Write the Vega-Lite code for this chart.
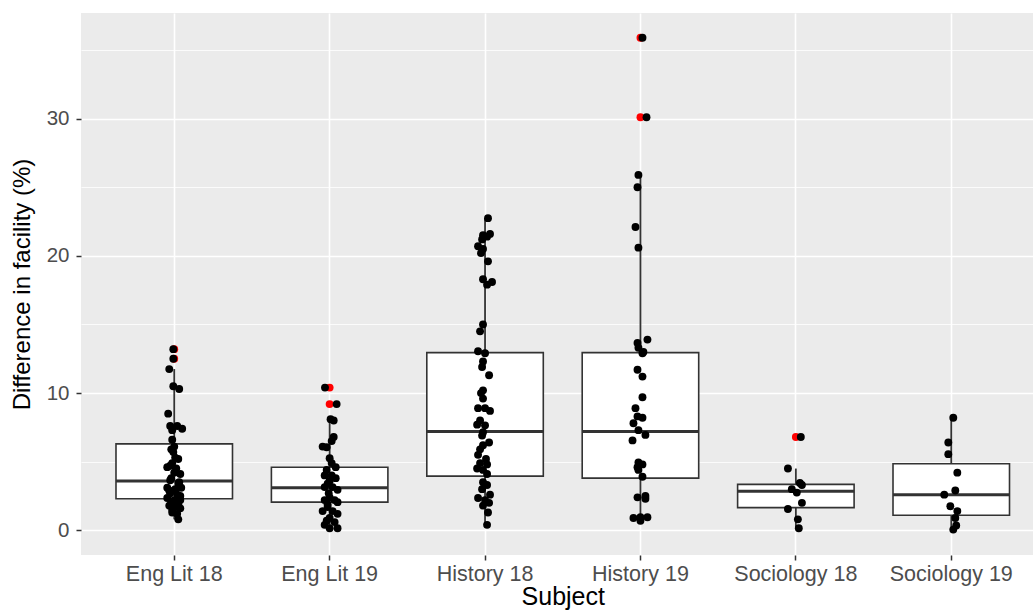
{
  "$schema": "https://vega.github.io/schema/vega-lite/v6.json",
  "width": 952,
  "height": 542,
  "autosize": {"type": "none"},
  "padding": {"left": 81, "top": 13, "right": 0, "bottom": 55},
  "background": "white",
  "config": {"view": {"fill": "#EBEBEB", "stroke": null}, "font": "Liberation Sans"},
  "datasets": {
    "box": [
      {"subject": "Eng Lit 18", "lower": 0.8, "q1": 2.3, "median": 3.6, "q3": 6.3, "upper": 11.75},
      {"subject": "Eng Lit 19", "lower": 0.05, "q1": 2.05, "median": 3.1, "q3": 4.6, "upper": 8.1},
      {"subject": "History 18", "lower": 0.4, "q1": 3.95, "median": 7.2, "q3": 12.95, "upper": 22.75},
      {"subject": "History 19", "lower": 0.7, "q1": 3.8, "median": 7.2, "q3": 12.95, "upper": 25.9},
      {"subject": "Sociology 18", "lower": 0.15, "q1": 1.65, "median": 2.85, "q3": 3.35, "upper": 4.5},
      {"subject": "Sociology 19", "lower": 0.05, "q1": 1.1, "median": 2.6, "q3": 4.85, "upper": 8.2}
    ],
    "pts": [
      {"subject": "Eng Lit 18", "value": 13.2, "jitter": -0.006, "outlier": true},
      {"subject": "Eng Lit 18", "value": 12.5, "jitter": -0.006, "outlier": true},
      {"subject": "Eng Lit 18", "value": 11.75, "jitter": -0.032, "outlier": false},
      {"subject": "Eng Lit 18", "value": 10.5, "jitter": -0.006, "outlier": false},
      {"subject": "Eng Lit 18", "value": 10.3, "jitter": 0.032, "outlier": false},
      {"subject": "Eng Lit 18", "value": 8.5, "jitter": -0.039, "outlier": false},
      {"subject": "Eng Lit 18", "value": 7.6, "jitter": -0.026, "outlier": false},
      {"subject": "Eng Lit 18", "value": 7.6, "jitter": 0.019, "outlier": false},
      {"subject": "Eng Lit 18", "value": 7.4, "jitter": 0.051, "outlier": false},
      {"subject": "Eng Lit 18", "value": 7.3, "jitter": -0.013, "outlier": false},
      {"subject": "Eng Lit 18", "value": 6.6, "jitter": -0.013, "outlier": false},
      {"subject": "Eng Lit 18", "value": 6.1, "jitter": 0.0, "outlier": false},
      {"subject": "Eng Lit 18", "value": 5.9, "jitter": -0.019, "outlier": false},
      {"subject": "Eng Lit 18", "value": 5.7, "jitter": -0.006, "outlier": false},
      {"subject": "Eng Lit 18", "value": 5.3, "jitter": 0.006, "outlier": false},
      {"subject": "Eng Lit 18", "value": 5.2, "jitter": 0.026, "outlier": false},
      {"subject": "Eng Lit 18", "value": 4.9, "jitter": -0.013, "outlier": false},
      {"subject": "Eng Lit 18", "value": 4.7, "jitter": -0.026, "outlier": false},
      {"subject": "Eng Lit 18", "value": 4.6, "jitter": -0.045, "outlier": false},
      {"subject": "Eng Lit 18", "value": 4.5, "jitter": 0.013, "outlier": false},
      {"subject": "Eng Lit 18", "value": 4.2, "jitter": 0.0, "outlier": false},
      {"subject": "Eng Lit 18", "value": 4.1, "jitter": 0.039, "outlier": false},
      {"subject": "Eng Lit 18", "value": 3.8, "jitter": -0.019, "outlier": false},
      {"subject": "Eng Lit 18", "value": 3.65, "jitter": -0.026, "outlier": false},
      {"subject": "Eng Lit 18", "value": 3.5, "jitter": 0.032, "outlier": false},
      {"subject": "Eng Lit 18", "value": 3.4, "jitter": 0.026, "outlier": false},
      {"subject": "Eng Lit 18", "value": 3.1, "jitter": -0.045, "outlier": false},
      {"subject": "Eng Lit 18", "value": 3.0, "jitter": 0.006, "outlier": false},
      {"subject": "Eng Lit 18", "value": 3.1, "jitter": 0.045, "outlier": false},
      {"subject": "Eng Lit 18", "value": 2.9, "jitter": -0.032, "outlier": false},
      {"subject": "Eng Lit 18", "value": 2.7, "jitter": -0.026, "outlier": false},
      {"subject": "Eng Lit 18", "value": 2.6, "jitter": 0.019, "outlier": false},
      {"subject": "Eng Lit 18", "value": 2.5, "jitter": 0.039, "outlier": false},
      {"subject": "Eng Lit 18", "value": 2.35, "jitter": -0.045, "outlier": false},
      {"subject": "Eng Lit 18", "value": 2.2, "jitter": 0.0, "outlier": false},
      {"subject": "Eng Lit 18", "value": 2.2, "jitter": 0.039, "outlier": false},
      {"subject": "Eng Lit 18", "value": 2.0, "jitter": -0.019, "outlier": false},
      {"subject": "Eng Lit 18", "value": 1.9, "jitter": 0.026, "outlier": false},
      {"subject": "Eng Lit 18", "value": 1.8, "jitter": -0.032, "outlier": false},
      {"subject": "Eng Lit 18", "value": 1.7, "jitter": 0.006, "outlier": false},
      {"subject": "Eng Lit 18", "value": 1.6, "jitter": 0.039, "outlier": false},
      {"subject": "Eng Lit 18", "value": 1.5, "jitter": -0.013, "outlier": false},
      {"subject": "Eng Lit 18", "value": 1.3, "jitter": -0.013, "outlier": false},
      {"subject": "Eng Lit 18", "value": 1.2, "jitter": 0.019, "outlier": false},
      {"subject": "Eng Lit 18", "value": 0.8, "jitter": 0.026, "outlier": false},
      {"subject": "Eng Lit 19", "value": 10.4, "jitter": -0.03, "outlier": true},
      {"subject": "Eng Lit 19", "value": 9.2, "jitter": 0.045, "outlier": true},
      {"subject": "Eng Lit 19", "value": 8.1, "jitter": 0.006, "outlier": false},
      {"subject": "Eng Lit 19", "value": 8.0, "jitter": 0.026, "outlier": false},
      {"subject": "Eng Lit 19", "value": 6.8, "jitter": 0.026, "outlier": false},
      {"subject": "Eng Lit 19", "value": 6.5, "jitter": 0.013, "outlier": false},
      {"subject": "Eng Lit 19", "value": 6.1, "jitter": -0.045, "outlier": false},
      {"subject": "Eng Lit 19", "value": 6.05, "jitter": -0.019, "outlier": false},
      {"subject": "Eng Lit 19", "value": 5.25, "jitter": 0.0, "outlier": false},
      {"subject": "Eng Lit 19", "value": 4.9, "jitter": 0.013, "outlier": false},
      {"subject": "Eng Lit 19", "value": 4.6, "jitter": 0.039, "outlier": false},
      {"subject": "Eng Lit 19", "value": 4.4, "jitter": -0.019, "outlier": false},
      {"subject": "Eng Lit 19", "value": 4.0, "jitter": -0.032, "outlier": false},
      {"subject": "Eng Lit 19", "value": 4.0, "jitter": 0.013, "outlier": false},
      {"subject": "Eng Lit 19", "value": 3.8, "jitter": 0.039, "outlier": false},
      {"subject": "Eng Lit 19", "value": 3.6, "jitter": 0.0, "outlier": false},
      {"subject": "Eng Lit 19", "value": 3.4, "jitter": -0.013, "outlier": false},
      {"subject": "Eng Lit 19", "value": 3.15, "jitter": -0.032, "outlier": false},
      {"subject": "Eng Lit 19", "value": 3.15, "jitter": 0.019, "outlier": false},
      {"subject": "Eng Lit 19", "value": 2.95, "jitter": 0.051, "outlier": false},
      {"subject": "Eng Lit 19", "value": 2.7, "jitter": -0.006, "outlier": false},
      {"subject": "Eng Lit 19", "value": 2.4, "jitter": 0.0, "outlier": false},
      {"subject": "Eng Lit 19", "value": 2.2, "jitter": -0.032, "outlier": false},
      {"subject": "Eng Lit 19", "value": 2.2, "jitter": 0.032, "outlier": false},
      {"subject": "Eng Lit 19", "value": 2.05, "jitter": 0.051, "outlier": false},
      {"subject": "Eng Lit 19", "value": 1.9, "jitter": -0.013, "outlier": false},
      {"subject": "Eng Lit 19", "value": 1.7, "jitter": -0.013, "outlier": false},
      {"subject": "Eng Lit 19", "value": 1.4, "jitter": -0.045, "outlier": false},
      {"subject": "Eng Lit 19", "value": 1.4, "jitter": 0.019, "outlier": false},
      {"subject": "Eng Lit 19", "value": 1.2, "jitter": 0.051, "outlier": false},
      {"subject": "Eng Lit 19", "value": 0.9, "jitter": 0.0, "outlier": false},
      {"subject": "Eng Lit 19", "value": 0.7, "jitter": -0.019, "outlier": false},
      {"subject": "Eng Lit 19", "value": 0.6, "jitter": 0.032, "outlier": false},
      {"subject": "Eng Lit 19", "value": 0.4, "jitter": -0.032, "outlier": false},
      {"subject": "Eng Lit 19", "value": 0.15, "jitter": 0.0, "outlier": false},
      {"subject": "Eng Lit 19", "value": 0.15, "jitter": 0.051, "outlier": false},
      {"subject": "History 18", "value": 22.75, "jitter": 0.019, "outlier": false},
      {"subject": "History 18", "value": 21.6, "jitter": 0.032, "outlier": false},
      {"subject": "History 18", "value": 21.5, "jitter": -0.013, "outlier": false},
      {"subject": "History 18", "value": 21.4, "jitter": 0.013, "outlier": false},
      {"subject": "History 18", "value": 21.2, "jitter": -0.019, "outlier": false},
      {"subject": "History 18", "value": 20.7, "jitter": -0.045, "outlier": false},
      {"subject": "History 18", "value": 20.5, "jitter": -0.013, "outlier": false},
      {"subject": "History 18", "value": 20.2, "jitter": -0.026, "outlier": false},
      {"subject": "History 18", "value": 19.6, "jitter": 0.019, "outlier": false},
      {"subject": "History 18", "value": 18.3, "jitter": -0.013, "outlier": false},
      {"subject": "History 18", "value": 18.1, "jitter": 0.045, "outlier": false},
      {"subject": "History 18", "value": 17.9, "jitter": 0.013, "outlier": false},
      {"subject": "History 18", "value": 15.0, "jitter": -0.013, "outlier": false},
      {"subject": "History 18", "value": 14.5, "jitter": -0.032, "outlier": false},
      {"subject": "History 18", "value": 13.05, "jitter": -0.045, "outlier": false},
      {"subject": "History 18", "value": 12.9, "jitter": 0.0, "outlier": false},
      {"subject": "History 18", "value": 12.3, "jitter": -0.013, "outlier": false},
      {"subject": "History 18", "value": 11.9, "jitter": -0.019, "outlier": false},
      {"subject": "History 18", "value": 11.3, "jitter": 0.026, "outlier": false},
      {"subject": "History 18", "value": 10.2, "jitter": -0.013, "outlier": false},
      {"subject": "History 18", "value": 10.0, "jitter": -0.026, "outlier": false},
      {"subject": "History 18", "value": 9.6, "jitter": -0.013, "outlier": false},
      {"subject": "History 18", "value": 8.9, "jitter": -0.045, "outlier": false},
      {"subject": "History 18", "value": 8.9, "jitter": 0.0, "outlier": false},
      {"subject": "History 18", "value": 8.7, "jitter": 0.032, "outlier": false},
      {"subject": "History 18", "value": 8.0, "jitter": -0.032, "outlier": false},
      {"subject": "History 18", "value": 7.7, "jitter": -0.051, "outlier": false},
      {"subject": "History 18", "value": 7.65, "jitter": 0.0, "outlier": false},
      {"subject": "History 18", "value": 7.15, "jitter": -0.013, "outlier": false},
      {"subject": "History 18", "value": 6.9, "jitter": -0.019, "outlier": false},
      {"subject": "History 18", "value": 6.4, "jitter": 0.026, "outlier": false},
      {"subject": "History 18", "value": 6.2, "jitter": -0.013, "outlier": false},
      {"subject": "History 18", "value": 5.9, "jitter": -0.032, "outlier": false},
      {"subject": "History 18", "value": 5.5, "jitter": -0.045, "outlier": false},
      {"subject": "History 18", "value": 5.2, "jitter": 0.006, "outlier": false},
      {"subject": "History 18", "value": 4.9, "jitter": -0.032, "outlier": false},
      {"subject": "History 18", "value": 4.8, "jitter": 0.013, "outlier": false},
      {"subject": "History 18", "value": 4.5, "jitter": -0.051, "outlier": false},
      {"subject": "History 18", "value": 4.4, "jitter": -0.013, "outlier": false},
      {"subject": "History 18", "value": 4.1, "jitter": 0.013, "outlier": false},
      {"subject": "History 18", "value": 3.5, "jitter": -0.013, "outlier": false},
      {"subject": "History 18", "value": 3.3, "jitter": 0.013, "outlier": false},
      {"subject": "History 18", "value": 3.0, "jitter": -0.019, "outlier": false},
      {"subject": "History 18", "value": 2.6, "jitter": 0.032, "outlier": false},
      {"subject": "History 18", "value": 2.35, "jitter": -0.045, "outlier": false},
      {"subject": "History 18", "value": 2.2, "jitter": 0.0, "outlier": false},
      {"subject": "History 18", "value": 2.0, "jitter": 0.026, "outlier": false},
      {"subject": "History 18", "value": 1.8, "jitter": -0.013, "outlier": false},
      {"subject": "History 18", "value": 1.3, "jitter": 0.019, "outlier": false},
      {"subject": "History 18", "value": 0.4, "jitter": 0.013, "outlier": false},
      {"subject": "History 19", "value": 35.9, "jitter": 0.013, "outlier": true},
      {"subject": "History 19", "value": 30.1, "jitter": 0.039, "outlier": true},
      {"subject": "History 19", "value": 25.9, "jitter": -0.013, "outlier": false},
      {"subject": "History 19", "value": 25.0, "jitter": -0.019, "outlier": false},
      {"subject": "History 19", "value": 22.1, "jitter": -0.032, "outlier": false},
      {"subject": "History 19", "value": 20.6, "jitter": -0.013, "outlier": false},
      {"subject": "History 19", "value": 13.9, "jitter": 0.045, "outlier": false},
      {"subject": "History 19", "value": 13.65, "jitter": -0.019, "outlier": false},
      {"subject": "History 19", "value": 13.3, "jitter": -0.013, "outlier": false},
      {"subject": "History 19", "value": 13.0, "jitter": 0.019, "outlier": false},
      {"subject": "History 19", "value": 12.9, "jitter": 0.013, "outlier": false},
      {"subject": "History 19", "value": 11.7, "jitter": -0.019, "outlier": false},
      {"subject": "History 19", "value": 11.2, "jitter": 0.013, "outlier": false},
      {"subject": "History 19", "value": 9.7, "jitter": 0.013, "outlier": false},
      {"subject": "History 19", "value": 8.9, "jitter": -0.032, "outlier": false},
      {"subject": "History 19", "value": 8.3, "jitter": -0.019, "outlier": false},
      {"subject": "History 19", "value": 8.2, "jitter": 0.013, "outlier": false},
      {"subject": "History 19", "value": 7.8, "jitter": -0.045, "outlier": false},
      {"subject": "History 19", "value": 7.3, "jitter": -0.013, "outlier": false},
      {"subject": "History 19", "value": 6.95, "jitter": 0.032, "outlier": false},
      {"subject": "History 19", "value": 6.55, "jitter": -0.051, "outlier": false},
      {"subject": "History 19", "value": 4.95, "jitter": -0.013, "outlier": false},
      {"subject": "History 19", "value": 4.8, "jitter": 0.013, "outlier": false},
      {"subject": "History 19", "value": 4.6, "jitter": -0.019, "outlier": false},
      {"subject": "History 19", "value": 4.4, "jitter": -0.013, "outlier": false},
      {"subject": "History 19", "value": 3.9, "jitter": 0.013, "outlier": false},
      {"subject": "History 19", "value": 2.5, "jitter": 0.032, "outlier": false},
      {"subject": "History 19", "value": 2.4, "jitter": -0.019, "outlier": false},
      {"subject": "History 19", "value": 2.3, "jitter": 0.032, "outlier": false},
      {"subject": "History 19", "value": 0.95, "jitter": 0.0, "outlier": false},
      {"subject": "History 19", "value": 0.9, "jitter": -0.045, "outlier": false},
      {"subject": "History 19", "value": 0.95, "jitter": 0.045, "outlier": false},
      {"subject": "History 19", "value": 0.7, "jitter": 0.0, "outlier": false},
      {"subject": "Sociology 18", "value": 6.8, "jitter": 0.032, "outlier": true},
      {"subject": "Sociology 18", "value": 4.5, "jitter": -0.051, "outlier": false},
      {"subject": "Sociology 18", "value": 3.45, "jitter": 0.026, "outlier": false},
      {"subject": "Sociology 18", "value": 3.3, "jitter": 0.039, "outlier": false},
      {"subject": "Sociology 18", "value": 3.0, "jitter": -0.026, "outlier": false},
      {"subject": "Sociology 18", "value": 2.75, "jitter": 0.006, "outlier": false},
      {"subject": "Sociology 18", "value": 2.0, "jitter": 0.039, "outlier": false},
      {"subject": "Sociology 18", "value": 1.55, "jitter": -0.051, "outlier": false},
      {"subject": "Sociology 18", "value": 0.8, "jitter": 0.013, "outlier": false},
      {"subject": "Sociology 18", "value": 0.15, "jitter": 0.019, "outlier": false},
      {"subject": "Sociology 19", "value": 8.2, "jitter": 0.013, "outlier": false},
      {"subject": "Sociology 19", "value": 6.4, "jitter": -0.019, "outlier": false},
      {"subject": "Sociology 19", "value": 5.55, "jitter": -0.019, "outlier": false},
      {"subject": "Sociology 19", "value": 4.2, "jitter": 0.039, "outlier": false},
      {"subject": "Sociology 19", "value": 2.9, "jitter": 0.026, "outlier": false},
      {"subject": "Sociology 19", "value": 2.6, "jitter": -0.045, "outlier": false},
      {"subject": "Sociology 19", "value": 1.75, "jitter": -0.006, "outlier": false},
      {"subject": "Sociology 19", "value": 1.4, "jitter": 0.039, "outlier": false},
      {"subject": "Sociology 19", "value": 0.9, "jitter": 0.026, "outlier": false},
      {"subject": "Sociology 19", "value": 0.35, "jitter": 0.032, "outlier": false},
      {"subject": "Sociology 19", "value": 0.05, "jitter": 0.013, "outlier": false}
    ]
  },
  "encoding": {
    "x": {
      "field": "subject",
      "type": "nominal",
      "title": "Subject",
      "scale": {
        "domain": ["Eng Lit 18", "Eng Lit 19", "History 18", "History 19", "Sociology 18", "Sociology 19"],
        "range": [0, 963.5],
        "paddingInner": 0,
        "paddingOuter": 0.1
      },
      "axis": {
        "bandPosition": 0.5,
        "grid": true,
        "gridColor": "white",
        "gridWidth": 1.6,
        "domain": false,
        "tickColor": "#333333",
        "tickSize": 5,
        "tickWidth": 1.5,
        "labelAngle": 0,
        "labelFontSize": 21.5,
        "labelColor": "#4D4D4D",
        "labelPadding": 3,
        "titleFontSize": 25,
        "titleFontWeight": "normal",
        "titleColor": "black",
        "titlePadding": 0
      }
    }
  },
  "layer": [
    {
      "data": {"name": "box"},
      "mark": {"type": "rule", "color": "#333333", "strokeWidth": 1.8},
      "encoding": {
        "y": {
          "field": "lower",
          "type": "quantitative",
          "title": "Difference in facility (%)",
          "scale": {"domain": [-1.8, 37.7], "nice": false, "zero": false},
          "axis": {
            "values": [0, 5, 10, 15, 20, 25, 30, 35],
            "labelExpr": "datum.value % 10 === 0 ? datum.label : ''",
            "grid": true,
            "gridColor": "white",
            "gridWidth": {"condition": {"test": "datum.value % 10 === 0", "value": 1.6}, "value": 0.8},
            "tickColor": {"condition": {"test": "datum.value % 10 === 0", "value": "#333333"}, "value": "transparent"},
            "tickSize": 5,
            "tickWidth": 1.5,
            "domain": false,
            "labelFontSize": 20.5,
            "labelColor": "#4D4D4D",
            "labelPadding": 7,
            "titleFontSize": 24,
            "titleFontWeight": "normal",
            "titleColor": "black",
            "titlePadding": 12
          }
        },
        "y2": {"field": "upper"}
      }
    },
    {
      "data": {"name": "box"},
      "mark": {"type": "bar", "fill": "white", "stroke": "#333333", "strokeWidth": 1.6, "width": 116.5},
      "encoding": {
        "y": {"field": "q1", "type": "quantitative"},
        "y2": {"field": "q3"}
      }
    },
    {
      "data": {"name": "box"},
      "mark": {"type": "tick", "color": "#333333", "thickness": 3, "size": 116.5, "opacity": 1},
      "encoding": {
        "y": {"field": "median", "type": "quantitative"}
      }
    },
    {
      "data": {"name": "pts"},
      "transform": [{"filter": "datum.outlier"}],
      "mark": {"type": "circle", "color": "#FF0000", "opacity": 1, "size": 62},
      "encoding": {
        "y": {"field": "value", "type": "quantitative"}
      }
    },
    {
      "data": {"name": "pts"},
      "mark": {"type": "circle", "color": "black", "opacity": 1, "size": 62},
      "encoding": {
        "xOffset": {"field": "jitter", "type": "quantitative", "scale": {"domain": [-0.5, 0.5], "range": [0, 155.4]}},
        "y": {"field": "value", "type": "quantitative"}
      }
    }
  ]
}
